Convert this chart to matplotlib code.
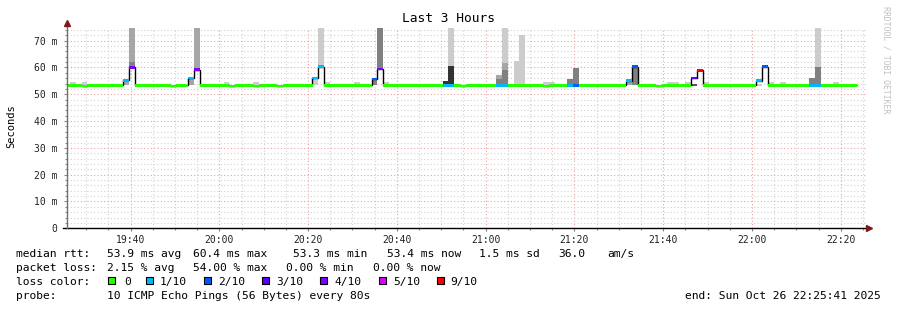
import numpy as np
import matplotlib
matplotlib.use("Agg")
import matplotlib.pyplot as plt
from matplotlib.patches import Rectangle
from matplotlib.ticker import MultipleLocator, FuncFormatter

plt.rcParams['font.family'] = 'DejaVu Sans Mono'

# time axis in minutes of the day, 80 s steps
start_min = 19 * 60 + 25 + 41 / 60      # 19:25:41
end_min = start_min + 180               # 22:25:41
first_step = 1164.95
step_min = 80 / 60

# median rtt per step (ms)
median = [
    53.4, 53.4, 53.4, 53.1, 53.4, 53.4, 53.4, 53.4, 53.4, 53.4,
    55.2, 60.0, 53.4, 53.4, 53.4, 53.4, 53.4, 53.4, 53.1, 53.4,
    53.4, 56.1, 59.1, 53.4, 53.4, 53.4, 53.4, 53.4, 53.1, 53.4,
    53.4, 53.4, 53.1, 53.4, 53.4, 53.4, 53.1, 53.4, 53.4, 53.4,
    53.4, 53.4, 56.1, 60.3, 53.4, 53.4, 53.4, 53.4, 53.4, 53.4,
    53.4, 53.4, 55.7, 59.4, 53.4, 53.4, 53.4, 53.4, 53.4, 53.4,
    53.4, 53.4, 53.4, 53.4, 53.4, 53.4, 53.4, 53.1, 53.4, 53.4,
    53.4, 53.4, 53.4, 53.4, 53.4, 53.4, 53.4, 53.4, 53.4, 53.4,
    53.4, 53.1, 53.4, 53.4, 53.4, 53.4, 53.4, 53.4, 53.4, 53.4,
    53.4, 53.4, 53.4, 53.4, 53.4, 55.1, 60.3, 53.4, 53.4, 53.4,
    53.1, 53.4, 53.4, 53.4, 53.4, 53.4, 56.1, 59.0, 53.4, 53.4,
    53.4, 53.4, 53.4, 53.4, 53.4, 53.4, 53.4, 55.0, 60.3, 53.4,
    53.4, 53.4, 53.4, 53.4, 53.4, 53.4, 53.4, 53.4, 53.4, 53.4,
    53.4, 53.4, 53.4, 53.4,
]

# lost pings out of 10 per step
loss = [
    0, 0, 0, 0, 0, 0, 0, 0, 0, 0,
    1, 4, 0, 0, 0, 0, 0, 0, 0, 0,
    0, 1, 4, 0, 0, 0, 0, 0, 0, 0,
    0, 0, 0, 0, 0, 0, 0, 0, 0, 0,
    0, 0, 1, 1, 0, 0, 0, 0, 0, 0,
    0, 0, 2, 4, 0, 0, 0, 0, 0, 0,
    0, 0, 0, 0, 1, 1, 0, 0, 0, 0,
    0, 0, 0, 1, 1, 0, 0, 0, 0, 0,
    0, 0, 0, 0, 0, 1, 2, 0, 0, 0,
    0, 0, 0, 0, 0, 1, 2, 0, 0, 0,
    0, 0, 0, 0, 0, 0, 3, 9, 0, 0,
    0, 0, 0, 0, 0, 0, 0, 1, 2, 0,
    0, 0, 0, 0, 0, 0, 1, 1, 0, 0,
    0, 0, 0, 0,
]

# steps with a small smoke bump just above the median
bump_steps = [1, 3, 27, 32, 44, 49, 54, 81, 82, 102, 103, 105, 108, 119, 121, 130]
bump_top = 54.6

# smoke bands per step: (low ms, high ms, shade)
smoke = {
    10: [(53.3, 55.7, 'm')],
    11: [(60.3, 62.0, 'd'), (62.0, 75, 'm')],
    21: [(53.3, 56.0, 'm')],
    22: [(59.5, 75, 'm')],
    42: [(53.3, 56.0, 'l')],
    43: [(60.5, 75, 'l')],
    52: [(53.3, 55.5, 'd')],
    53: [(59.8, 75, 'd')],
    64: [(53.3, 55.0, 'k')],
    65: [(53.3, 60.5, 'k'), (60.5, 75, 'l')],
    73: [(53.3, 55.7, 'd'), (55.7, 57.2, 'm')],
    74: [(53.3, 59.2, 'd'), (59.2, 61.8, 'm'), (61.8, 75, 'l')],
    76: [(53.3, 62.5, 'l')],
    77: [(53.3, 72.1, 'l')],
    85: [(53.3, 55.7, 'd')],
    86: [(53.3, 59.9, 'd')],
    95: [(53.3, 55.0, 'm')],
    96: [(53.3, 60.0, 'd')],
    106: [(53.1, 53.7, 'x')],
    117: [(53.1, 53.8, 'l')],
    126: [(53.3, 56.0, 'd')],
    127: [(53.3, 60.3, 'd'), (60.3, 75, 'l')],
}

loss_keys = [0, 1, 2, 3, 4, 5, 9]
loss_labels = ['0', '1/10', '2/10', '3/10', '4/10', '5/10', '9/10']
loss_colors = {0: '#26ff00', 1: '#00b8ff', 2: '#0059ff', 3: '#5e00ff',
               4: '#7e00ff', 5: '#dd00ff', 9: '#ff0000'}
shades = {'l': '#cccccc', 'm': '#a6a6a6', 'd': '#808080', 'x': '#585858', 'k': '#333333'}

W, H = 897, 310


def fx(px):
    return px / W


def fy(py):
    return 1 - py / H


fig = plt.figure(figsize=(W / 100, H / 100), dpi=100)
fig.patch.set_facecolor('white')
ax = fig.add_axes([fx(67), fy(228.3), 799 / W, 200.5 / H])
ax.set_xlim(start_min, end_min)
ax.set_ylim(0, 74.8)

edges = first_step + step_min * np.arange(len(median) + 1)

# smoke
for k in bump_steps:
    ax.bar(edges[k], bump_top - 53.3, bottom=53.3, width=step_min, align='edge',
           color=shades['l'], lw=0, zorder=2)
for k, bands in smoke.items():
    for lo, hi, sh in bands:
        ax.bar(edges[k], hi - lo, bottom=lo, width=step_min, align='edge',
               color=shades[sh], lw=0, zorder=2)

# median as black stair line
ax.stairs(median, edges, color='black', lw=1, baseline=None, zorder=3)

# median band coloured by loss
band = 1.05
for k, (m, l) in enumerate(zip(median, loss)):
    if l == 0:
        ax.bar(edges[k], band, bottom=m - band / 2, width=step_min * 1.04, align='edge',
               color=loss_colors[0], lw=0, zorder=4)
for k, (m, l) in enumerate(zip(median, loss)):
    if l > 0:
        ax.bar(edges[k], band, bottom=m - band / 2, width=step_min, align='edge',
               color=loss_colors[l], lw=0, zorder=5)

# grid and ticks
ax.xaxis.set_major_locator(MultipleLocator(20))
ax.xaxis.set_minor_locator(MultipleLocator(5))
ax.yaxis.set_major_locator(MultipleLocator(10))
ax.yaxis.set_minor_locator(MultipleLocator(2))
ax.xaxis.set_major_formatter(FuncFormatter(lambda v, p: f"{int(v // 60):02d}:{int(round(v % 60)):02d}"))
ax.yaxis.set_major_formatter(FuncFormatter(lambda v, p: "0" if v == 0 else f"{int(v)} m"))
ax.set_axisbelow(True)
ax.grid(which='minor', color='#d2d2d2', linestyle=(0, (1, 2)), lw=0.8)
ax.grid(which='major', color='#f0a0a0', linestyle=(0, (1, 2)), lw=0.8)
ax.tick_params(which='both', direction='out', length=2, width=0.8, color='#888888',
               labelsize=7, colors='#222222')
ax.tick_params(axis='x', which='major', pad=3)
ax.tick_params(axis='y', which='major', pad=5)
ax.tick_params(which='minor', length=1.5)
for s in ax.spines.values():
    s.set_visible(False)

# axis lines with arrows
ax.plot([-0.005, 1.0], [0, 0], transform=ax.transAxes, color='black', lw=1, clip_on=False, zorder=6)
ax.plot([0, 0], [0, 1.02], transform=ax.transAxes, color='#707070', lw=1, clip_on=False, zorder=6)
ax.plot([1.004], [0], transform=ax.transAxes, marker='>', ms=4, color='#801818', clip_on=False, zorder=7)
ax.plot([0], [1.026], transform=ax.transAxes, marker='^', ms=4, color='#801818', clip_on=False, zorder=7)

# titles
fig.text(fx(448), fy(19), 'Last 3 Hours', ha='center', va='center', fontsize=9.3, color='black')
fig.text(fx(11), fy(126), 'Seconds', ha='center', va='center', rotation=90, fontsize=7.5)
fig.text(fx(886), fy(60), 'RRDTOOL / TOBI OETIKER', ha='center', va='center', rotation=270,
         fontsize=5.9, color='#c0c0c0')

# legend rows
fs = 8.1
row1 = [('median rtt:', 16), ('53.9 ms avg', 107), ('60.4 ms max', 193), ('53.3 ms min', 293),
        ('53.4 ms now', 387), ('1.5 ms sd', 479), ('36.0', 558), ('am/s', 607)]
row2 = [('packet loss:', 16), ('2.15 % avg', 107), ('54.00 % max', 193), ('0.00 % min', 286),
        ('0.00 % now', 373)]
for txt, x in row1:
    fig.text(fx(x), fy(254), txt, ha='left', va='center', fontsize=fs)
for txt, x in row2:
    fig.text(fx(x), fy(268), txt, ha='left', va='center', fontsize=fs)

fig.text(fx(16), fy(282), 'loss color:', ha='left', va='center', fontsize=fs)
box_x = [108, 146, 204, 262, 320, 379, 437]
label_x = [124, 160, 218, 276, 334, 393, 450]
for key, lab, bx, lx in zip(loss_keys, loss_labels, box_x, label_x):
    fig.add_artist(Rectangle((fx(bx), fy(284)), 7 / W, 7 / H, transform=fig.transFigure,
                             facecolor=loss_colors[key], edgecolor='black', lw=0.8))
    fig.text(fx(lx), fy(282), lab, ha='left', va='center', fontsize=fs)

fig.text(fx(16), fy(296), 'probe:', ha='left', va='center', fontsize=fs)
fig.text(fx(107), fy(296), '10 ICMP Echo Pings (56 Bytes) every 80s', ha='left', va='center', fontsize=fs)
fig.text(fx(881), fy(296), 'end: Sun Oct 26 22:25:41 2025', ha='right', va='center', fontsize=fs)

fig.savefig('out.png', dpi=100, facecolor='white')
